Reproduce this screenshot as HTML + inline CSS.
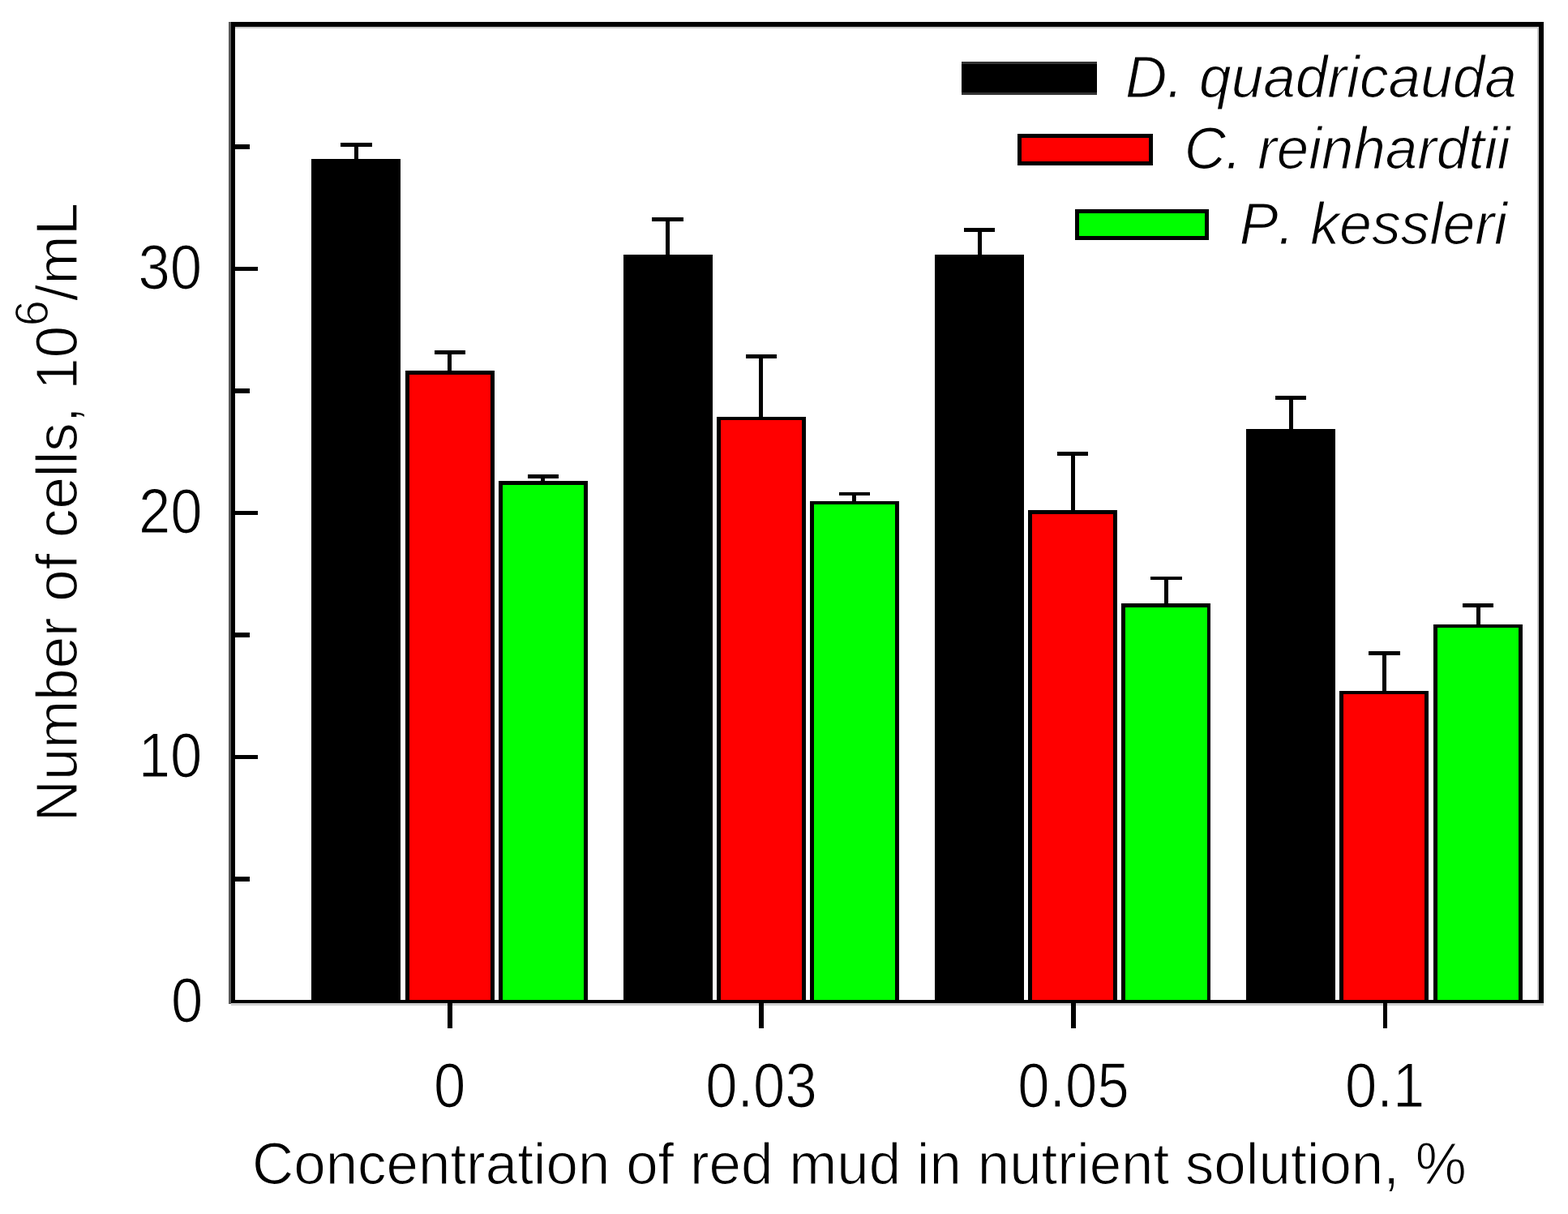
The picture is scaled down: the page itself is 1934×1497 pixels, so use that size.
<!DOCTYPE html>
<html><head><meta charset="utf-8"><title>Number of cells vs red mud concentration</title>
<style>html,body{margin:0;padding:0;background:#fff;overflow:hidden;}svg{display:block;}svg text{shape-rendering:auto;font-kerning:none;}</style>
</head><body>
<svg width="1934" height="1497" viewBox="0 0 1934 1497" shape-rendering="crispEdges">
<rect x="282" y="27" width="2.5" height="1210.5" fill="#5a5a5a"/>
<rect x="284.5" y="27" width="5.5" height="1210.2" fill="#000"/>
<rect x="284.5" y="27" width="1619.5" height="5.8" fill="#000"/>
<rect x="1898" y="27" width="6" height="1210.2" fill="#000"/>
<rect x="284.5" y="1232.6" width="1619.5" height="4.6" fill="#000"/>
<rect x="290" y="32.8" width="1608" height="2" fill="#c8c8c8"/>
<rect x="1896" y="32.8" width="2" height="1199.8" fill="#cacaca"/>
<rect x="284.5" y="1237.2" width="1619.5" height="2.5" fill="#d0d0d0"/>
<rect x="290" y="930.95" width="28" height="5.3" fill="#000"/>
<rect x="290" y="629.95" width="28" height="5.3" fill="#000"/>
<rect x="290" y="328.95" width="28" height="5.3" fill="#000"/>
<rect x="290" y="1081.45" width="17.6" height="5.3" fill="#000"/>
<rect x="290" y="780.45" width="17.6" height="5.3" fill="#000"/>
<rect x="290" y="479.45" width="17.6" height="5.3" fill="#000"/>
<rect x="290" y="178.45" width="17.6" height="5.3" fill="#000"/>
<rect x="551.8" y="1237" width="5.8" height="30.8" fill="#000"/>
<rect x="936.4" y="1237" width="5.8" height="30.8" fill="#000"/>
<rect x="1321" y="1237" width="5.8" height="30.8" fill="#000"/>
<rect x="1705.6" y="1237" width="5.8" height="30.8" fill="#000"/>
<rect x="436.85" y="176.1" width="5" height="21.2" fill="#000"/>
<rect x="420.05" y="176.1" width="38.6" height="4.7" fill="#000"/>
<rect x="384.45" y="196.3" width="109.8" height="1036.7" fill="#000"/>
<rect x="552.35" y="432.1" width="5" height="26.2" fill="#000"/>
<rect x="535.55" y="432.1" width="38.6" height="4.6" fill="#000"/>
<rect x="499.95" y="457.3" width="109.8" height="775.7" fill="#000"/>
<rect x="504.65" y="462" width="100.4" height="771" fill="#ff0000"/>
<rect x="667.35" y="585.1" width="5" height="9.1" fill="#000"/>
<rect x="650.55" y="585.1" width="38.6" height="4.7" fill="#000"/>
<rect x="614.95" y="593.2" width="109.8" height="639.8" fill="#000"/>
<rect x="619.65" y="597.9" width="100.4" height="635.1" fill="#00ff00"/>
<rect x="821.15" y="268.1" width="5" height="47.1" fill="#000"/>
<rect x="804.35" y="268.1" width="38.6" height="4.7" fill="#000"/>
<rect x="768.75" y="314.2" width="109.8" height="918.8" fill="#000"/>
<rect x="936.4" y="436.9" width="5" height="77.8" fill="#000"/>
<rect x="919.6" y="436.9" width="38.6" height="4.9" fill="#000"/>
<rect x="884" y="513.7" width="109.8" height="719.3" fill="#000"/>
<rect x="888.7" y="518.4" width="100.4" height="714.6" fill="#ff0000"/>
<rect x="1051.45" y="606.7" width="5" height="12" fill="#000"/>
<rect x="1034.65" y="606.7" width="38.6" height="4.7" fill="#000"/>
<rect x="999.05" y="617.7" width="109.8" height="615.3" fill="#000"/>
<rect x="1003.75" y="622.4" width="100.4" height="610.6" fill="#00ff00"/>
<rect x="1205.55" y="281.1" width="5" height="33.9" fill="#000"/>
<rect x="1188.75" y="281.1" width="38.6" height="4.7" fill="#000"/>
<rect x="1153.15" y="314" width="109.8" height="919" fill="#000"/>
<rect x="1320.55" y="557.1" width="5" height="72.9" fill="#000"/>
<rect x="1303.75" y="557.1" width="38.6" height="4.7" fill="#000"/>
<rect x="1268.15" y="629" width="109.8" height="604" fill="#000"/>
<rect x="1272.85" y="633.7" width="100.4" height="599.3" fill="#ff0000"/>
<rect x="1435.85" y="710.7" width="5" height="34.3" fill="#000"/>
<rect x="1419.05" y="710.7" width="38.6" height="4.7" fill="#000"/>
<rect x="1383.45" y="744" width="109.8" height="489" fill="#000"/>
<rect x="1388.15" y="748.7" width="100.4" height="484.3" fill="#00ff00"/>
<rect x="1589.55" y="488.1" width="5" height="41.7" fill="#000"/>
<rect x="1572.75" y="488.1" width="38.6" height="4.7" fill="#000"/>
<rect x="1537.15" y="528.8" width="109.8" height="704.2" fill="#000"/>
<rect x="1704.75" y="803.1" width="5" height="49.4" fill="#000"/>
<rect x="1687.95" y="803.1" width="38.6" height="4.7" fill="#000"/>
<rect x="1652.35" y="851.5" width="109.8" height="381.5" fill="#000"/>
<rect x="1657.05" y="856.2" width="100.4" height="376.8" fill="#ff0000"/>
<rect x="1820.5" y="744.2" width="5" height="26.3" fill="#000"/>
<rect x="1803.7" y="744.2" width="38.6" height="4.8" fill="#000"/>
<rect x="1768.1" y="769.5" width="109.8" height="463.5" fill="#000"/>
<rect x="1772.8" y="774.2" width="100.4" height="458.8" fill="#00ff00"/>
<rect x="1186.2" y="75.9" width="166.6" height="40.8" fill="#333"/>
<rect x="1186.2" y="79" width="166.6" height="34.9" fill="#000"/>
<rect x="1255.3" y="165.1" width="166.6" height="38.6" fill="#000"/>
<rect x="1260.3" y="170.1" width="156.6" height="28.6" fill="#ff0000"/>
<rect x="1325.8" y="258.3" width="165.1" height="37.2" fill="#000"/>
<rect x="1330.8" y="263.3" width="155.1" height="27.2" fill="#00ff00"/>
<g font-family="'Liberation Sans', Arial, sans-serif" fill="#000" stroke="#fff" stroke-width="1.2">
<text transform="translate(1388.11 119.9) scale(0.9777 1)" font-size="72.8" font-style="italic">D. quadricauda</text>
<text transform="translate(1460.69 208.2) scale(0.9736 1)" font-size="72.8" font-style="italic">C. reinhardtii</text>
<text transform="translate(1528.7 300.9) scale(0.9840 1)" font-size="72.8" font-style="italic">P. kessleri</text>
<text transform="translate(170.54 355.9) scale(0.9180 1)" font-size="77.0">30</text>
<text transform="translate(170.94 656.75) scale(0.9180 1)" font-size="77.0">20</text>
<text transform="translate(170.74 958.35) scale(0.9180 1)" font-size="77.0">10</text>
<text transform="translate(210.94 1260.35) scale(0.9180 1)" font-size="77.0">0</text>
<text transform="translate(535.04 1364.95) scale(0.9180 1)" font-size="77.0">0</text>
<text transform="translate(870.13 1364.95) scale(0.9180 1)" font-size="77.0">0.03</text>
<text transform="translate(1255.17 1364.95) scale(0.9180 1)" font-size="77.0">0.05</text>
<text transform="translate(1659.04 1364.95) scale(0.9180 1)" font-size="77.0">0.1</text>
<text transform="translate(311 1460.4) scale(0.9715 1)" font-size="73.0">Concentration of red mud in nutrient solution, %</text>
<text transform="translate(95.4 1013.21) rotate(-90) scale(0.9702 1)" font-size="73.0">Number of cells,</text>
<text transform="translate(95.4 480.7) rotate(-90) scale(0.9700 1)" font-size="73.0">10</text>
<text transform="translate(58.9 402.2) rotate(-90) scale(1.0000 1)" font-size="57.6">6</text>
<text transform="translate(95.4 370.9) rotate(-90) scale(0.9936 1)" font-size="73.0">/mL</text>
</g>
</svg>
</body></html>
